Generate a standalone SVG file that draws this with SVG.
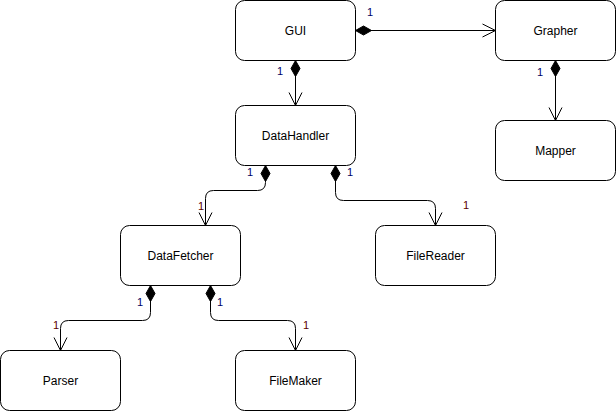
<svg xmlns="http://www.w3.org/2000/svg" width="616" height="411" viewBox="0 0 616 411">
<style>
.node rect{fill:#fff;stroke:#000;stroke-width:1}
.node text{font-family:"Liberation Sans",Arial,sans-serif;font-size:12px;fill:#000;text-anchor:middle}
.edges path{fill:none;stroke:#000;stroke-width:1}
.lbl{font-family:"Liberation Sans",Arial,sans-serif;font-size:11px}
.src{fill:#000066}
.tgt{fill:#5a0000}
</style>
<defs>
<marker id="dia" markerUnits="userSpaceOnUse" markerWidth="17" markerHeight="10" refX="0" refY="0" orient="auto" overflow="visible">
<polygon points="0,0 8,-4.5 16,0 8,4.5" fill="#000" stroke="#000" stroke-width="1"/>
</marker>
<marker id="arr" markerUnits="userSpaceOnUse" markerWidth="14" markerHeight="14" refX="0" refY="0" orient="auto" overflow="visible">
<polyline points="-13,-6.5 0,0 -13,6.5" fill="none" stroke="#000" stroke-width="1"/>
</marker>
</defs>
<g id="GUI" class="node"><rect x="235.5" y="0.5" width="120" height="60" rx="9"/><text x="295.5" y="35">GUI</text></g>
<g id="Grapher" class="node"><rect x="495.5" y="0.5" width="120" height="60" rx="9"/><text x="555.5" y="35">Grapher</text></g>
<g id="DataHandler" class="node"><rect x="235.5" y="105.5" width="120" height="60" rx="9"/><text x="295.5" y="140">DataHandler</text></g>
<g id="Mapper" class="node"><rect x="495.5" y="120.5" width="120" height="60" rx="9"/><text x="555.5" y="155">Mapper</text></g>
<g id="DataFetcher" class="node"><rect x="120.5" y="225.5" width="120" height="60" rx="9"/><text x="180.5" y="260">DataFetcher</text></g>
<g id="FileReader" class="node"><rect x="375.5" y="225.5" width="120" height="60" rx="9"/><text x="435.5" y="260">FileReader</text></g>
<g id="Parser" class="node"><rect x="0.5" y="350.5" width="120" height="60" rx="9"/><text x="60.5" y="385">Parser</text></g>
<g id="FileMaker" class="node"><rect x="235.5" y="350.5" width="120" height="60" rx="9"/><text x="295.5" y="385">FileMaker</text></g>
<g id="connectors" class="edges">
<path d="M355.5,30.5 L495.5,30.5" marker-start="url(#dia)" marker-end="url(#arr)"/>
<path d="M295.5,60.5 L295.5,105.5" marker-start="url(#dia)" marker-end="url(#arr)"/>
<path d="M555.5,60.5 L555.5,120.5" marker-start="url(#dia)" marker-end="url(#arr)"/>
<path d="M265.5,165.5 L265.5,182.5 Q265.5,190.5 257.5,190.5 L213.5,190.5 Q205.5,190.5 205.5,198.5 L205.5,225.5" marker-start="url(#dia)" marker-end="url(#arr)"/>
<path d="M335.5,165.5 L335.5,192.5 Q335.5,200.5 343.5,200.5 L427.5,200.5 Q435.5,200.5 435.5,208.5 L435.5,225.5" marker-start="url(#dia)" marker-end="url(#arr)"/>
<path d="M150.5,285.5 L150.5,312.5 Q150.5,320.5 142.5,320.5 L68.5,320.5 Q60.5,320.5 60.5,328.5 L60.5,350.5" marker-start="url(#dia)" marker-end="url(#arr)"/>
<path d="M210.5,285.5 L210.5,312.5 Q210.5,320.5 218.5,320.5 L287.5,320.5 Q295.5,320.5 295.5,328.5 L295.5,350.5" marker-start="url(#dia)" marker-end="url(#arr)"/>
</g>
<g id="labels" class="lbl">
<text class="src" x="367" y="16">1</text>
<text class="src" x="277" y="75">1</text>
<text class="src" x="537" y="76">1</text>
<text class="src" x="247" y="176">1</text>
<text class="src" x="347" y="176">1</text>
<text class="tgt" x="463" y="209">1</text>
<text class="tgt" x="198" y="210">1</text>
<text class="src" x="137" y="306">1</text>
<text class="tgt" x="53" y="329">1</text>
<text class="src" x="217" y="306">1</text>
<text class="tgt" x="303" y="329">1</text>
</g>
</svg>
